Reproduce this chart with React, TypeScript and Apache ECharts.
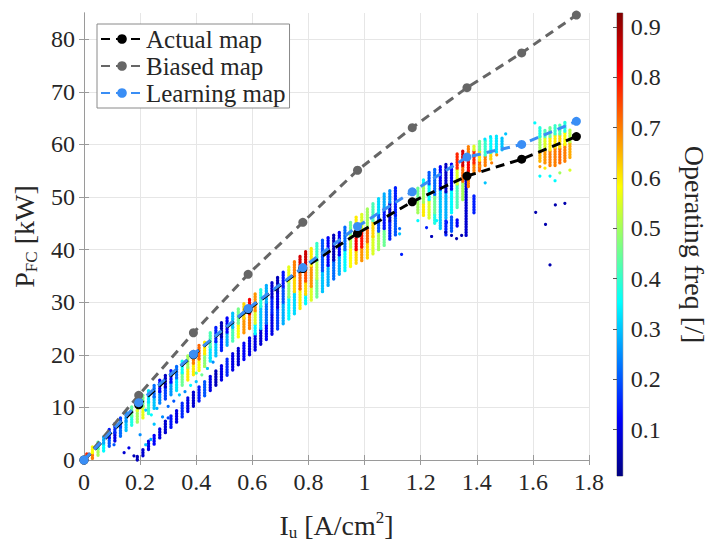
import React, { useEffect, useRef } from "react";
import * as echarts from "echarts";

// ---- map lines ----
const mapX = [0, 0.195, 0.39, 0.585, 0.78, 0.975, 1.17, 1.365, 1.56, 1.755];
const actualMap = [0, 10.5, 20.0, 28.6, 36.4, 43.1, 49.1, 54.0, 57.2, 61.5];
const biasedMap = [0, 12.3, 24.2, 35.3, 45.2, 55.1, 63.2, 70.8, 77.4, 84.6];
const learningMap = [0, 10.9, 20.1, 28.8, 36.6, 44.4, 51.0, 57.6, 60.0, 64.4];

// ---- operating points: [I_u, P_low, P_high, freq] (vertical strips of points) ----
const upperBand = [
  [0.01, 0.0, 1.4, 0.78],
  [0.03, 0.3, 1.4, 0.7], [0.03, 1.4, 2.5, 0.58],
  [0.05, 0.9, 2.2, 0.5], [0.05, 2.2, 3.6, 0.42],
  [0.07, 1.7, 3.2, 0.35], [0.07, 3.2, 4.7, 0.28],
  [0.09, 2.6, 4.2, 0.2], [0.09, 4.2, 5.8, 0.14],
  [0.11, 3.6, 5.2, 0.1], [0.11, 5.2, 6.9, 0.16],
  [0.13, 4.5, 6.3, 0.22], [0.13, 6.3, 8.1, 0.18],
  [0.15, 5.6, 7.4, 0.3], [0.15, 7.4, 9.2, 0.26],
  [0.17, 6.6, 8.4, 0.38], [0.17, 8.4, 10.3, 0.44],
  [0.19, 7.2, 9.4, 0.5], [0.19, 9.4, 11.4, 0.55],
  [0.21, 8.0, 10.2, 0.56], [0.21, 10.2, 12.3, 0.46],
  [0.23, 8.8, 11.0, 0.4], [0.23, 11.0, 13.3, 0.33],
  [0.25, 9.8, 12.0, 0.3], [0.25, 12.0, 14.2, 0.22],
  [0.27, 10.8, 13.0, 0.24], [0.27, 13.0, 15.2, 0.12],
  [0.29, 11.6, 13.9, 0.18], [0.29, 13.9, 16.1, 0.07],
  [0.31, 12.4, 14.8, 0.26], [0.31, 14.8, 17.1, 0.13],
  [0.33, 13.2, 15.6, 0.33], [0.33, 15.6, 18.0, 0.22],
  [0.35, 14.2, 16.6, 0.45], [0.35, 16.6, 19.0, 0.36],
  [0.37, 15.2, 17.6, 0.6], [0.37, 17.6, 20.0, 0.5],
  [0.39, 16.2, 18.4, 0.6], [0.39, 18.4, 20.0, 0.7], [0.39, 20.0, 21.0, 0.84],
  [0.41, 17.0, 19.2, 0.58], [0.41, 19.2, 21.8, 0.72],
  [0.43, 17.8, 20.2, 0.48], [0.43, 20.2, 22.7, 0.6],
  [0.45, 18.8, 21.5, 0.33], [0.45, 21.5, 24.5, 0.42],
  [0.47, 19.8, 22.5, 0.3], [0.47, 22.5, 25.5, 0.15],
  [0.49, 20.8, 23.4, 0.15], [0.49, 23.4, 26.3, 0.06],
  [0.51, 21.8, 24.3, 0.28], [0.51, 24.3, 27.2, 0.12],
  [0.53, 22.6, 25.2, 0.42], [0.53, 25.2, 28.0, 0.3],
  [0.55, 23.4, 26.0, 0.58], [0.55, 26.0, 29.0, 0.46],
  [0.57, 24.2, 27.0, 0.68], [0.57, 27.0, 30.0, 0.62],
  [0.59, 25.0, 27.8, 0.7], [0.59, 27.8, 30.8, 0.82],
  [0.61, 20.9, 24.0, 0.1], [0.61, 24.0, 26.0, 0.35], [0.61, 26.0, 28.4, 0.55], [0.61, 28.4, 31.6, 0.68],
  [0.63, 22.0, 25.0, 0.08], [0.63, 25.0, 29.2, 0.3], [0.63, 29.2, 32.4, 0.38],
  [0.65, 22.9, 26.0, 0.12], [0.65, 26.0, 30.0, 0.22], [0.65, 30.0, 33.2, 0.28],
  [0.67, 23.9, 28.0, 0.1], [0.67, 28.0, 31.0, 0.15], [0.67, 31.0, 34.0, 0.08],
  [0.69, 24.9, 29.0, 0.18], [0.69, 29.0, 32.0, 0.1], [0.69, 32.0, 35.0, 0.06],
  [0.71, 25.9, 30.0, 0.28], [0.71, 30.0, 33.0, 0.2], [0.71, 33.0, 36.0, 0.14],
  [0.73, 26.8, 31.0, 0.35], [0.73, 31.0, 34.0, 0.48], [0.73, 34.0, 37.0, 0.56],
  [0.75, 27.8, 32.0, 0.32], [0.75, 32.0, 35.0, 0.62], [0.75, 35.0, 38.0, 0.7],
  [0.77, 28.8, 32.5, 0.6], [0.77, 32.5, 36.0, 0.72], [0.77, 36.0, 39.0, 0.85],
  [0.79, 29.7, 31.5, 0.35], [0.79, 31.5, 34.0, 0.62], [0.79, 34.0, 37.0, 0.74], [0.79, 37.0, 39.6, 0.86],
  [0.81, 30.4, 33.0, 0.55], [0.81, 33.0, 37.0, 0.68], [0.81, 37.0, 40.4, 0.6],
  [0.83, 31.0, 34.5, 0.45], [0.83, 34.5, 38.0, 0.52], [0.83, 38.0, 41.2, 0.4],
  [0.85, 32.0, 36.0, 0.3], [0.85, 36.0, 41.8, 0.2],
  [0.87, 33.2, 37.0, 0.28], [0.87, 37.0, 42.4, 0.12],
  [0.89, 34.4, 38.0, 0.22], [0.89, 38.0, 43.0, 0.06],
  [0.91, 35.3, 39.0, 0.28], [0.91, 39.0, 43.6, 0.12],
  [0.93, 36.0, 40.0, 0.35], [0.93, 40.0, 44.4, 0.22],
  [0.95, 36.8, 40.5, 0.58], [0.95, 40.5, 43.0, 0.52], [0.95, 43.0, 45.2, 0.45],
  [0.97, 37.4, 40.0, 0.62], [0.97, 40.0, 43.0, 0.82], [0.97, 43.0, 46.2, 0.6],
  [0.99, 37.9, 40.5, 0.68], [0.99, 40.5, 44.0, 0.8], [0.99, 44.0, 47.0, 0.55],
  [1.01, 38.4, 41.5, 0.62], [1.01, 41.5, 44.5, 0.72], [1.01, 44.5, 47.8, 0.5],
  [1.03, 39.2, 42.5, 0.55], [1.03, 42.5, 45.5, 0.62], [1.03, 45.5, 48.8, 0.42],
  [1.05, 40.0, 43.5, 0.5], [1.05, 43.5, 47.0, 0.2], [1.05, 47.0, 49.8, 0.32],
  [1.07, 40.8, 44.0, 0.45], [1.07, 44.0, 48.0, 0.14], [1.07, 48.0, 50.6, 0.28],
  [1.09, 42.0, 45.5, 0.15], [1.09, 45.5, 49.0, 0.07], [1.09, 49.0, 51.4, 0.25],
  [1.11, 42.8, 46.5, 0.2], [1.11, 46.5, 52.0, 0.15],
];

const lowerBand = [
  [0.19, 0.0, 0.9, 0.06],
  [0.21, 0.8, 2.2, 0.08],
  [0.23, 2.0, 3.6, 0.1],
  [0.25, 3.0, 5.0, 0.12],
  [0.27, 4.2, 6.2, 0.1],
  [0.29, 5.2, 7.4, 0.08],
  [0.31, 6.2, 8.6, 0.14],
  [0.33, 7.2, 9.6, 0.1],
  [0.35, 8.2, 10.8, 0.16],
  [0.37, 9.2, 11.8, 0.1],
  [0.39, 10.2, 13.0, 0.08],
  [0.41, 11.2, 14.0, 0.14],
  [0.43, 12.2, 15.2, 0.2],
  [0.45, 13.2, 16.2, 0.1],
  [0.47, 14.2, 17.2, 0.06],
  [0.49, 15.2, 18.2, 0.1],
  [0.51, 16.1, 19.2, 0.16],
  [0.53, 17.1, 20.2, 0.1],
  [0.55, 18.1, 21.2, 0.08],
  [0.57, 19.1, 22.2, 0.12],
  [0.59, 20.0, 23.4, 0.1],
];

const cluster2 = [
  [1.19, 47.0, 49.5, 0.5], [1.19, 49.5, 52.0, 0.45],
  [1.21, 46.5, 49.0, 0.6], [1.21, 49.0, 52.6, 0.5], [1.21, 52.6, 53.4, 0.35],
  [1.23, 46.0, 49.5, 0.55], [1.23, 49.5, 52.5, 0.35], [1.23, 52.5, 55.0, 0.2],
  [1.25, 45.0, 47.0, 0.38], [1.25, 47.0, 50.5, 0.45], [1.25, 50.5, 55.4, 0.22],
  [1.27, 44.0, 47.5, 0.3], [1.27, 47.5, 51.5, 0.3], [1.27, 51.5, 55.8, 0.12],
  [1.29, 42.8, 45.5, 0.15], [1.29, 46.0, 51.0, 0.28], [1.29, 51.0, 56.2, 0.07],
  [1.31, 43.5, 46.5, 0.2], [1.31, 47.0, 51.5, 0.35], [1.31, 51.5, 56.6, 0.12],
  [1.33, 44.5, 46.0, 0.12], [1.33, 48.0, 52.5, 0.42], [1.33, 52.5, 55.5, 0.55], [1.33, 55.5, 58.2, 0.78],
  [1.35, 49.5, 53.0, 0.5], [1.35, 53.0, 56.0, 0.72], [1.35, 56.0, 58.8, 0.85],
  [1.362, 42.7, 54.0, 0.08],
  [1.37, 52.0, 55.0, 0.7], [1.37, 55.0, 57.5, 0.82], [1.37, 57.5, 59.6, 0.7],
  [1.39, 47.0, 50.5, 0.15], [1.39, 54.5, 56.5, 0.7], [1.39, 56.5, 59.0, 0.78], [1.39, 59.0, 60.0, 0.55],
  [1.41, 55.0, 57.0, 0.72], [1.41, 57.0, 59.0, 0.6], [1.41, 59.0, 60.6, 0.45],
  [1.43, 56.0, 58.0, 0.7], [1.43, 58.0, 61.0, 0.4],
  [1.45, 57.2, 58.5, 0.62], [1.45, 58.5, 61.2, 0.35],
  [1.47, 58.5, 61.6, 0.33],
  [1.49, 59.0, 61.2, 0.3],
];

const cluster3 = [
  [1.625, 56.8, 58.8, 0.65], [1.625, 58.8, 61.5, 0.5], [1.625, 61.5, 63.5, 0.38],
  [1.643, 56.5, 59.0, 0.68], [1.643, 59.0, 61.5, 0.55], [1.643, 61.5, 63.0, 0.42],
  [1.661, 56.0, 59.0, 0.7], [1.661, 59.0, 61.5, 0.6], [1.661, 61.5, 63.5, 0.45],
  [1.679, 56.0, 59.5, 0.7], [1.679, 59.5, 62.0, 0.6], [1.679, 62.0, 63.6, 0.4],
  [1.696, 56.5, 59.5, 0.72], [1.696, 59.5, 62.0, 0.62], [1.696, 62.0, 64.0, 0.42],
  [1.714, 56.8, 60.0, 0.7], [1.714, 60.0, 62.5, 0.58], [1.714, 62.5, 64.2, 0.38],
  [1.732, 57.5, 60.5, 0.66], [1.732, 60.5, 63.0, 0.52],
];

// isolated points: [I_u, P, freq]
const sparsePoints = [
  [0.107, 2.9, 0.2], [0.143, 1.4, 0.08], [0.16, 2.3, 0.1], [0.178, 0.8, 0.06],
  [0.2, 4.8, 0.25], [0.22, 2.9, 0.3], [0.238, 3.9, 0.28],
  [0.22, 9.5, 0.3], [0.24, 8.6, 0.35], [0.26, 9.8, 0.28], [0.28, 8.2, 0.25],
  [0.25, 6.8, 0.3], [0.3, 10.2, 0.22], [0.32, 11.2, 0.2], [0.34, 12.4, 0.3],
  [0.3, 8.0, 0.18], [0.36, 13.0, 0.25], [0.38, 14.2, 0.35], [0.4, 14.9, 0.3],
  [0.42, 16.2, 0.45], [0.44, 17.4, 0.3], [0.46, 18.6, 0.25], [0.4, 16.5, 0.42],
  [0.43, 17.8, 0.5], [0.45, 19.4, 0.33],
  [1.125, 43.0, 0.3], [1.125, 44.0, 0.22], [1.132, 39.1, 0.15],
  [1.19, 45.5, 0.35], [1.221, 44.2, 0.15], [1.239, 42.5, 0.06], [1.257, 45.5, 0.35],
  [1.289, 43.3, 0.06], [1.292, 45.2, 0.15], [1.31, 42.7, 0.05], [1.328, 42.1, 0.05],
  [1.346, 42.7, 0.05], [1.43, 52.7, 0.3], [1.411, 55.9, 0.68], [1.453, 56.5, 0.7],
  [1.471, 58.0, 0.68], [1.429, 61.0, 0.33], [1.449, 61.5, 0.33], [1.503, 62.0, 0.3],
  [1.607, 64.1, 0.35], [1.625, 54.0, 0.35], [1.661, 54.0, 0.35], [1.679, 53.1, 0.35],
  [1.643, 55.5, 0.6], [1.696, 54.6, 0.5], [1.732, 55.1, 0.55], [1.625, 55.8, 0.68],
  [1.61, 47.1, 0.05], [1.645, 44.8, 0.05], [1.68, 48.5, 0.05], [1.714, 48.8, 0.05],
  [1.661, 37.1, 0.05],
];

// colour bar
const cbMin = 0.008;
const cbMax = 0.928;
const cbTicks = [0.1, 0.2, 0.3, 0.4, 0.5, 0.6, 0.7, 0.8, 0.9];
const yTicks = [0, 10, 20, 30, 40, 50, 60, 70, 80];
const jet = ["#000080", "#0000ff", "#0080ff", "#00ffff", "#80ff80", "#ffff00", "#ff8000", "#ff0000", "#800000"];

const FONT = "Liberation Serif";
const TXT = "#262626";
const AX = "#9a9a9a";

export default function App() {
  const ref = useRef<HTMLDivElement>(null);
  useEffect(() => {
    if (!ref.current) return;
    const chart = echarts.init(ref.current, null, { renderer: "svg" });

    const segs = [
      ...upperBand,
      ...lowerBand,
      ...cluster2,
      ...cluster3,
      ...sparsePoints.map((p) => [p[0], p[1], p[1], p[2]]),
    ];

    const pair = (ys: number[]) => mapX.map((x, i) => [x, ys[i]]);
    const lineSeries = (name: string, ys: number[], color: string, z: number) => ({
      name,
      type: "line",
      data: pair(ys),
      xAxisIndex: 0,
      yAxisIndex: 0,
      symbol: "circle",
      symbolSize: 9,
      z,
      itemStyle: { color },
      lineStyle: { color, width: 3, type: [9, 6] },
    });

    const richMain = { fontFamily: FONT, fontSize: 28, color: TXT, lineHeight: 32 };
    const richSub = { fontFamily: FONT, fontSize: 17, color: TXT, lineHeight: 14, verticalAlign: "bottom" };
    const richSup = { fontFamily: FONT, fontSize: 17, color: TXT, lineHeight: 16, verticalAlign: "top" };

    const axisCommon = {
      axisLine: { show: true, lineStyle: { color: AX, width: 1 } },
      axisTick: { show: true, inside: true, length: 5, lineStyle: { color: AX } },
    };

    const stops = jet.map((c, i) => ({ offset: i / (jet.length - 1), color: c }));

    chart.setOption({
      animation: false,
      backgroundColor: "#ffffff",
      grid: [
        { left: 84, top: 13, width: 505, height: 463, show: false },
        { left: 617, top: 13, width: 23, height: 463, show: true, borderColor: "#8a8a8a", borderWidth: 1 },
      ],
      xAxis: [
        {
          type: "value", gridIndex: 0, min: 0, max: 1.8, interval: 0.2, position: "bottom",
          ...axisCommon,
          axisLabel: { fontFamily: FONT, fontSize: 24, color: TXT, margin: 10 },
          splitLine: { show: true, lineStyle: { color: "#e6e6e6", width: 1 } },
          name: "{a|I}{s|u}{a| [A/cm}{p|2}{a|]}",
          nameLocation: "middle",
          nameGap: 49,
          nameTextStyle: { rich: { a: richMain, s: richSub, p: richSup } },
        },
        {
          type: "value", gridIndex: 0, min: 0, max: 1.8, interval: 0.2, position: "top",
          ...axisCommon,
          axisLabel: { show: false },
          splitLine: { show: false },
        },
        { type: "value", gridIndex: 1, min: 0, max: 1, show: false },
      ],
      yAxis: [
        {
          type: "value", gridIndex: 0, min: 0, max: 85, position: "left",
          axisLine: { show: true, lineStyle: { color: AX, width: 1 } },
          axisTick: { show: true, inside: true, length: 5, lineStyle: { color: AX }, customValues: yTicks },
          axisLabel: { fontFamily: FONT, fontSize: 24, color: TXT, margin: 9, customValues: yTicks },
          splitLine: { show: true, lineStyle: { color: "#e6e6e6", width: 1 }, customValues: yTicks },
          name: "{a|P}{s|FC}{a| [kW]}",
          nameLocation: "middle",
          nameRotate: 90,
          nameGap: 38,
          nameTextStyle: { rich: { a: richMain, s: richSub } },
        },
        {
          type: "value", gridIndex: 0, min: 0, max: 85, position: "right",
          axisLine: { show: true, lineStyle: { color: AX, width: 1 } },
          axisTick: { show: true, inside: true, length: 5, lineStyle: { color: AX }, customValues: yTicks },
          axisLabel: { show: false },
          splitLine: { show: false },
        },
        {
          type: "value", gridIndex: 1, min: cbMin, max: cbMax, position: "right",
          axisLine: { show: false },
          axisTick: { show: true, inside: true, length: 4, lineStyle: { color: "#555" }, customValues: cbTicks },
          axisLabel: {
            fontFamily: FONT, fontSize: 24, color: TXT, margin: 8,
            customValues: cbTicks,
            formatter: (v: number) => v.toFixed(1),
          },
          splitLine: { show: false },
          name: "Operating freq [/]",
          nameLocation: "middle",
          nameRotate: -90,
          nameGap: 58,
          nameTextStyle: { fontFamily: FONT, fontSize: 28, color: TXT },
        },
      ],
      visualMap: [
        {
          type: "continuous", show: false, min: cbMin, max: cbMax, dimension: 3,
          seriesIndex: [0], inRange: { color: jet },
        },
      ],
      legend: {
        show: true,
        data: ["Actual map", "Biased map", "Learning map"],
        orient: "vertical",
        left: 97,
        top: 24,
        padding: [2, 4, 2, 3],
        itemGap: 1,
        itemWidth: 42,
        itemHeight: 12,
        backgroundColor: "#ffffff",
        borderColor: "#8a8a8a",
        borderWidth: 1,
        borderRadius: 0,
        textStyle: { fontFamily: FONT, fontSize: 25, color: TXT, lineHeight: 26, padding: [0, 0, 0, -2] },
      },
      series: [
        {
          type: "custom",
          name: "points",
          xAxisIndex: 0,
          yAxisIndex: 0,
          z: 1,
          data: segs,
          encode: { x: 0, y: [1, 2] },
          renderItem: (params: any, api: any) => {
            const x = api.value(0);
            const p0 = api.coord([x, api.value(1)]);
            const p1 = api.coord([x, api.value(2)]);
            const color = api.visual("color");
            if (p0[1] - p1[1] < 1) {
              return { type: "circle", shape: { cx: p0[0], cy: p0[1], r: 1.6 }, style: { fill: color } };
            }
            return {
              type: "line",
              shape: { x1: p0[0], y1: p0[1], x2: p1[0], y2: p1[1] },
              style: { stroke: color, lineWidth: 3.3, lineCap: "round", lineDash: [0.8, 1.9] },
            };
          },
        },
        lineSeries("Actual map", actualMap, "#000000", 3),
        lineSeries("Biased map", biasedMap, "#666666", 4),
        lineSeries("Learning map", learningMap, "#3a8ef5", 5),
        {
          type: "custom",
          name: "colorbar",
          xAxisIndex: 2,
          yAxisIndex: 2,
          data: [[0.5, 0.5]],
          silent: true,
          renderItem: (params: any) => {
            const cs = params.coordSys;
            return {
              type: "rect",
              shape: { x: cs.x, y: cs.y, width: cs.width, height: cs.height },
              style: { fill: new echarts.graphic.LinearGradient(0, 1, 0, 0, stops) },
            };
          },
        },
      ],
    });
    return () => chart.dispose();
  }, []);

  return (
    <div
      ref={ref}
      style={{ position: "fixed", left: 0, top: 0, width: 709, height: 546, background: "#fff" }}
    />
  );
}
